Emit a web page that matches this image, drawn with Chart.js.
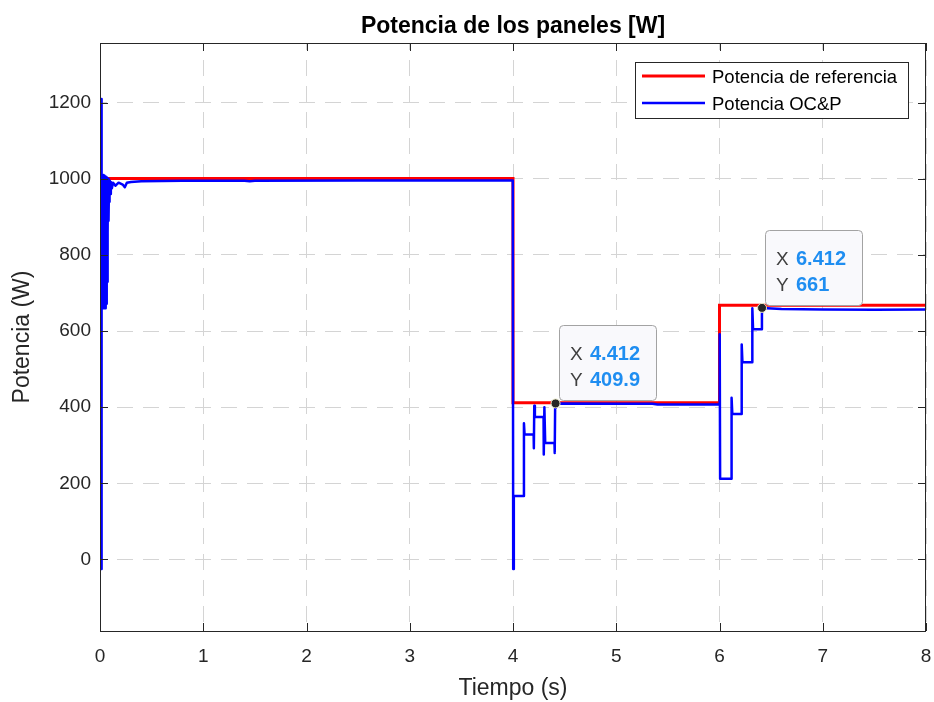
<!DOCTYPE html>
<html>
<head>
<meta charset="utf-8">
<title>Potencia de los paneles</title>
<script src="https://cdn.jsdelivr.net/npm/chart.js@4.4.1/dist/chart.umd.min.js"></script>
<style>
  html, body { margin: 0; padding: 0; background: #fff; }
  #wrap { width: 934px; height: 702px; }
</style>
</head>
<body>
<div id="wrap"><canvas id="myChart" width="934" height="702"></canvas></div>
<script>
// axis ticks
const xTicks = [0, 1, 2, 3, 4, 5, 6, 7, 8];
const yTicks = [0, 200, 400, 600, 800, 1000, 1200];

// reference power (red)
const timeRef = [0, 4.0, 4.0, 6.0, 6.0, 8.0];
const powerRef = [1001, 1001, 412, 412, 668, 668];

// OC&P power (blue)
const timeOCP = [
  0.010, 0.012, 0.014, 0.0155, 0.017, 0.0185, 0.020, 0.0225,
  0.025, 0.0275, 0.030, 0.0325, 0.035, 0.0375, 0.040, 0.0425, 0.045, 0.0475,
  0.050, 0.0525, 0.055, 0.0575, 0.060, 0.0625, 0.065, 0.0675, 0.070, 0.0725,
  0.075, 0.0775, 0.080, 0.0825, 0.085, 0.0875, 0.090, 0.095, 0.100, 0.105,
  0.115, 0.125, 0.15, 0.18, 0.22, 0.24, 0.26, 0.30, 0.40, 0.80,
  1.40, 1.45, 1.50, 2.50, 3.50, 3.998,
  4.002, 4.008, 4.104, 4.106, 4.112, 4.200, 4.202, 4.206, 4.212, 4.296,
  4.298, 4.304, 4.312, 4.402, 4.404, 4.408, 4.414, 5.0, 5.35, 5.40, 5.998,
  6.002, 6.006, 6.114, 6.117, 6.124, 6.212, 6.215, 6.222, 6.315, 6.318,
  6.325, 6.408, 6.411, 6.414, 6.6, 7.0, 7.5, 8.0
];
const powerOCP = [
  -25, 1210, 690, 1012, 690, 1012, 690, 1008,
  668, 1010, 660, 1006, 670, 1010, 662, 1005, 668, 1008,
  660, 1004, 666, 1006, 672, 1003, 685, 1004, 730, 1000,
  860, 1000, 900, 998, 890, 996, 940, 996, 960, 992,
  975, 990, 982, 990, 985, 978, 990, 992, 994, 995,
  995, 994, 995, 996, 996, 996,
  -25, 167, 167, 358, 328, 328, 292, 404, 374, 374,
  276, 400, 306, 306, 280, 398, 410, 409, 409, 407, 407,
  592, 212, 212, 425, 382, 382, 565, 518, 518, 660,
  605, 605, 645, 661, 658, 657, 656, 657
];

// data tips
const tipTimes = [4.412, 6.412];
const tipValues = [409.9, 661];

const FONT = "'Liberation Sans', Arial, Helvetica, sans-serif";
const AXIS_COLOR = '#262626';

const toPoints = (xs, ys) => xs.map((x, i) => ({ x: x, y: ys[i] }));

// box round the axes with inward ticks on all four sides
const axesBoxPlugin = {
  id: 'axesBox',
  afterDraw: (chart) => {
    const ctx = chart.ctx;
    const { left, right, top, bottom } = chart.chartArea;
    const sx = chart.scales.x;
    const sy = chart.scales.y;
    const tickLen = 8;
    ctx.save();
    ctx.strokeStyle = AXIS_COLOR;
    ctx.lineWidth = 1;
    ctx.beginPath();
    xTicks.forEach(v => {
      const px = Math.round(sx.getPixelForValue(v)) + 0.5;
      ctx.moveTo(px, bottom); ctx.lineTo(px, bottom - tickLen);
      ctx.moveTo(px, top); ctx.lineTo(px, top + tickLen);
    });
    yTicks.forEach(v => {
      const py = Math.round(sy.getPixelForValue(v)) + 0.5;
      ctx.moveTo(left, py); ctx.lineTo(left + tickLen, py);
      ctx.moveTo(right, py); ctx.lineTo(right - tickLen, py);
    });
    ctx.stroke();
    ctx.strokeRect(Math.round(left) + 0.5, Math.round(top) + 0.5,
      Math.round(right - left) - 1, Math.round(bottom - top));
    ctx.restore();
  }
};

// MATLAB style data tip boxes
const dataTipPlugin = {
  id: 'dataTips',
  afterDatasetsDraw: (chart) => {
    const ctx = chart.ctx;
    tipTimes.forEach((t, i) => {
      const px = chart.scales.x.getPixelForValue(t);
      const py = chart.scales.y.getPixelForValue(tipValues[i]);
      const w = 97, h = 75;
      const bx = Math.round(px + 3), by = Math.round(py - 3 - h);
      ctx.save();
      ctx.beginPath();
      ctx.roundRect(bx + 0.5, by + 0.5, w, h, 4);
      ctx.fillStyle = '#f9f9fc';
      ctx.fill();
      ctx.strokeStyle = '#a3a3a3';
      ctx.lineWidth = 1;
      ctx.stroke();
      ctx.textAlign = 'left';
      ctx.textBaseline = 'alphabetic';
      ctx.fillStyle = '#404040';
      ctx.font = `19px ${FONT}`;
      ctx.fillText('X', bx + 11, by + 34.5);
      ctx.fillText('Y', bx + 11, by + 61);
      ctx.fillStyle = '#1f8ef1';
      ctx.font = `bold 20px ${FONT}`;
      ctx.fillText(String(t), bx + 31, by + 34.5);
      ctx.fillText(String(tipValues[i]), bx + 31, by + 61);
      ctx.restore();
    });
  }
};

// legend box in the upper right corner
const legendPlugin = {
  id: 'boxLegend',
  afterDraw: (chart) => {
    const ctx = chart.ctx;
    const bx = Math.round(chart.chartArea.right - 291);
    const by = Math.round(chart.chartArea.top + 19);
    const w = 273, h = 56;
    ctx.save();
    ctx.fillStyle = '#ffffff';
    ctx.fillRect(bx, by, w, h);
    ctx.strokeStyle = AXIS_COLOR;
    ctx.lineWidth = 1;
    ctx.strokeRect(bx + 0.5, by + 0.5, w, h);
    const entries = chart.data.datasets.filter(d => d.inLegend);
    entries.forEach((d, i) => {
      const ly = by + 14 + i * 27;
      ctx.beginPath();
      ctx.strokeStyle = d.borderColor;
      ctx.lineWidth = d.borderWidth;
      ctx.moveTo(bx + 7, ly);
      ctx.lineTo(bx + 70, ly);
      ctx.stroke();
      ctx.fillStyle = '#000000';
      ctx.font = `18.5px ${FONT}`;
      ctx.textAlign = 'left';
      ctx.textBaseline = 'middle';
      ctx.fillText(d.label, bx + 77, ly + 2);
    });
    ctx.restore();
  }
};

const ctx = document.getElementById('myChart').getContext('2d');
const chart = new Chart(ctx, {
  type: 'line',
  data: {
    datasets: [
      {
        label: 'Potencia de referencia',
        data: toPoints(timeRef, powerRef),
        borderColor: '#ff0000',
        borderWidth: 3,
        pointRadius: 0,
        fill: false,
        order: 3,
        inLegend: true
      },
      {
        label: 'Potencia OC&P',
        data: toPoints(timeOCP, powerOCP),
        borderColor: '#0000ff',
        borderWidth: 2.5,
        borderJoinStyle: 'round',
        pointRadius: 0,
        fill: false,
        order: 2,
        inLegend: true
      },
      {
        label: 'datatips',
        data: toPoints(tipTimes, tipValues),
        showLine: false,
        pointRadius: 4.5,
        pointBackgroundColor: '#262626',
        pointBorderColor: '#e9e9c8',
        pointBorderWidth: 1,
        order: 1,
        inLegend: false
      }
    ]
  },
  options: {
    responsive: false,
    maintainAspectRatio: false,
    animation: false,
    events: [],
    layout: { padding: { left: 0, right: 8, top: 0, bottom: 0 } },
    scales: {
      x: {
        type: 'linear',
        position: 'bottom',
        min: 0,
        max: 8,
        afterBuildTicks: (scale) => { scale.ticks = xTicks.map(v => ({ value: v })); },
        afterFit: (scale) => {
          scale.height = 71;
          scale.paddingLeft = 0;
          scale.paddingRight = 0;
        },
        ticks: {
          color: AXIS_COLOR,
          font: { family: FONT, size: 19 },
          padding: 14.5,
          maxRotation: 0,
          callback: (value) => String(value)
        },
        grid: { color: '#d4d4d4', lineWidth: 1, drawTicks: false },
        border: { display: false, dash: [16, 10], dashOffset: 9 },
        title: {
          display: true,
          text: 'Tiempo (s)',
          color: AXIS_COLOR,
          font: { family: FONT, size: 23 },
          padding: { top: 0, bottom: 0 }
        }
      },
      y: {
        type: 'linear',
        position: 'left',
        min: -188,
        max: 1357,
        afterBuildTicks: (scale) => { scale.ticks = yTicks.map(v => ({ value: v })); },
        afterFit: (scale) => {
          scale.width = 100;
          scale.paddingTop = 0;
          scale.paddingBottom = 0;
        },
        ticks: {
          color: AXIS_COLOR,
          font: { family: FONT, size: 19 },
          padding: 9,
          callback: (value) => String(value)
        },
        grid: { color: '#d4d4d4', lineWidth: 1, drawTicks: false },
        border: { display: false, dash: [16, 10], dashOffset: 9 },
        title: {
          display: true,
          text: 'Potencia (W)',
          color: AXIS_COLOR,
          font: { family: FONT, size: 23 },
          padding: { top: 9, bottom: 0 }
        }
      }
    },
    plugins: {
      legend: { display: false },
      tooltip: { enabled: false },
      title: {
        display: true,
        fullSize: false,
        text: 'Potencia de los paneles [W]',
        color: '#000000',
        font: { family: FONT, size: 23, weight: 'bold' },
        padding: { top: 12.4, bottom: 3 }
      }
    }
  },
  plugins: [dataTipPlugin, axesBoxPlugin, legendPlugin]
});
</script>
</body>
</html>
